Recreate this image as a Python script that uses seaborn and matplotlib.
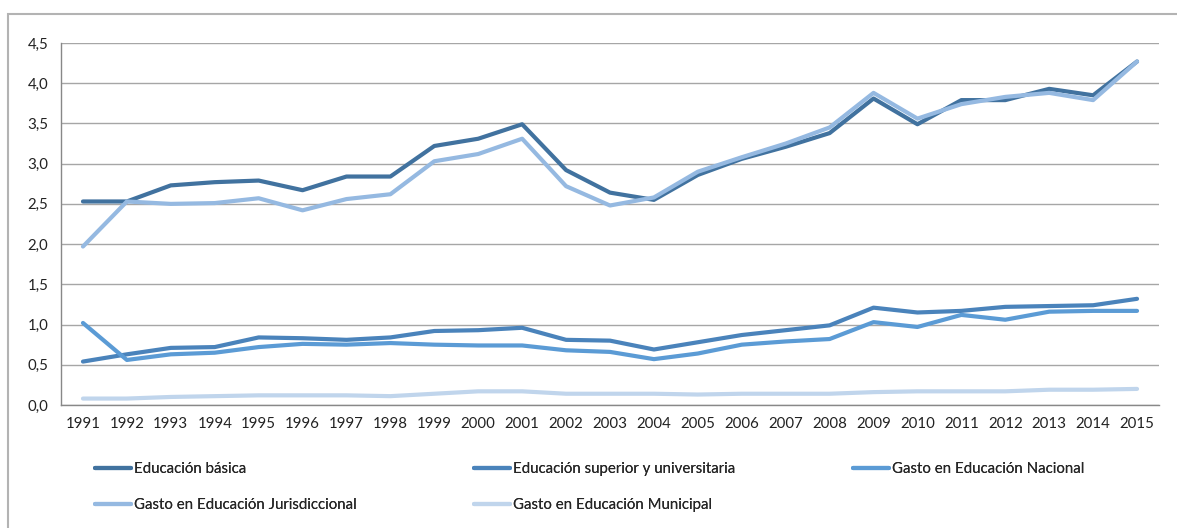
import matplotlib
matplotlib.use("Agg")
import matplotlib.pyplot as plt
import numpy as np
import pandas as pd
import seaborn as sns
from matplotlib.patches import Rectangle
from matplotlib.ticker import FixedLocator, FuncFormatter

years = list(range(1991, 2016))

basica = [2.53, 2.53, 2.73, 2.77, 2.79, 2.67, 2.84, 2.84, 3.22, 3.31, 3.49, 2.92, 2.64,
          2.55, 2.86, 3.06, 3.21, 3.38, 3.81, 3.49, 3.79, 3.79, 3.93, 3.85, 4.27]
superior = [0.54, 0.63, 0.71, 0.72, 0.84, 0.83, 0.81, 0.84, 0.92, 0.93, 0.96, 0.81, 0.80,
            0.69, 0.78, 0.87, 0.93, 0.99, 1.21, 1.15, 1.17, 1.22, 1.23, 1.24, 1.32]
nacional = [1.02, 0.56, 0.63, 0.65, 0.72, 0.76, 0.75, 0.77, 0.75, 0.74, 0.74, 0.68, 0.66,
            0.57, 0.64, 0.75, 0.79, 0.82, 1.03, 0.97, 1.12, 1.06, 1.16, 1.17, 1.17]
jurisdiccional = [1.97, 2.53, 2.50, 2.51, 2.57, 2.42, 2.56, 2.62, 3.03, 3.12, 3.31, 2.72, 2.48,
                  2.58, 2.90, 3.08, 3.25, 3.45, 3.88, 3.56, 3.74, 3.83, 3.88, 3.79, 4.27]
municipal = [0.08, 0.08, 0.10, 0.11, 0.12, 0.12, 0.12, 0.11, 0.14, 0.17, 0.17, 0.14, 0.14,
             0.14, 0.13, 0.14, 0.14, 0.14, 0.16, 0.17, 0.17, 0.17, 0.19, 0.19, 0.20]

series_names = ["Educación básica", "Educación superior y universitaria",
                "Gasto en Educación Nacional", "Gasto en Educación Jurisdiccional",
                "Gasto en Educación Municipal"]
series_values = [basica, superior, nacional, jurisdiccional, municipal]
colors = ["#41729f", "#4a83bb", "#5b9bd5", "#95b9e1", "#c0d5ec"]

df = pd.concat([pd.DataFrame({"year": years, "value": v, "serie": n})
                for n, v in zip(series_names, series_values)])

sns.set_style("white")
plt.rcParams["font.family"] = ["Lato", "DejaVu Sans"]

fig = plt.figure(figsize=(11.77, 5.28), dpi=100)
ax = fig.add_axes([61 / 1177, 1 - 405 / 528, (1159 - 61) / 1177, (405 - 43) / 528])

sns.lineplot(data=df, x="year", y="value", hue="serie", hue_order=series_names,
             palette=colors, linewidth=3, ax=ax, legend=False)

ax.set_xlim(1990.5, 2015.5)
ax.set_ylim(0, 4.5)
ax.set_yticks(np.arange(0, 4.51, 0.5))
ax.yaxis.set_major_formatter(FuncFormatter(lambda v, p: f"{v:.1f}".replace(".", ",")))
ax.set_xticks(years)
ax.set_xticklabels([str(y) for y in years])
ax.xaxis.set_minor_locator(FixedLocator(np.arange(1990.5, 2016, 1)))
ax.tick_params(axis="x", which="major", length=0, pad=9, labelsize=10.8, colors="#222222")
ax.tick_params(axis="x", which="minor", length=5, width=1, color="#888888", direction="out")
ax.tick_params(axis="y", length=5, width=1, color="#888888", direction="out",
               labelsize=10.8, colors="#222222", pad=4)
ax.grid(axis="y", color="#a6a6a6", linewidth=1)
ax.set_axisbelow(True)
for s in ["top", "right"]:
    ax.spines[s].set_visible(False)
for s in ["left", "bottom"]:
    ax.spines[s].set_color("#888888")
    ax.spines[s].set_linewidth(1)
ax.set_xlabel("")
ax.set_ylabel("")

# legend in three columns, row-major like the original
lines = ax.get_lines()
cols = [[0, 3], [1, 4], [2]]
xs = [95, 474, 853]
for c, x0 in zip(cols, xs):
    leg = fig.legend([lines[i] for i in c], [series_names[i] for i in c],
                     loc="upper left", bbox_to_anchor=(x0 / 1177, 1 - 462 / 528),
                     frameon=False, handlelength=2.4, handletextpad=0.2,
                     labelspacing=1.45, fontsize=10.8, borderaxespad=0, borderpad=0)
    fig.add_artist(leg)

fig.add_artist(Rectangle((8 / 1177, -0.1), 1.2, 1 - 14 / 528 + 0.1, transform=fig.transFigure,
                         fill=False, edgecolor="#b3b3b3", linewidth=1.5))

fig.savefig("out.png", dpi=100)
